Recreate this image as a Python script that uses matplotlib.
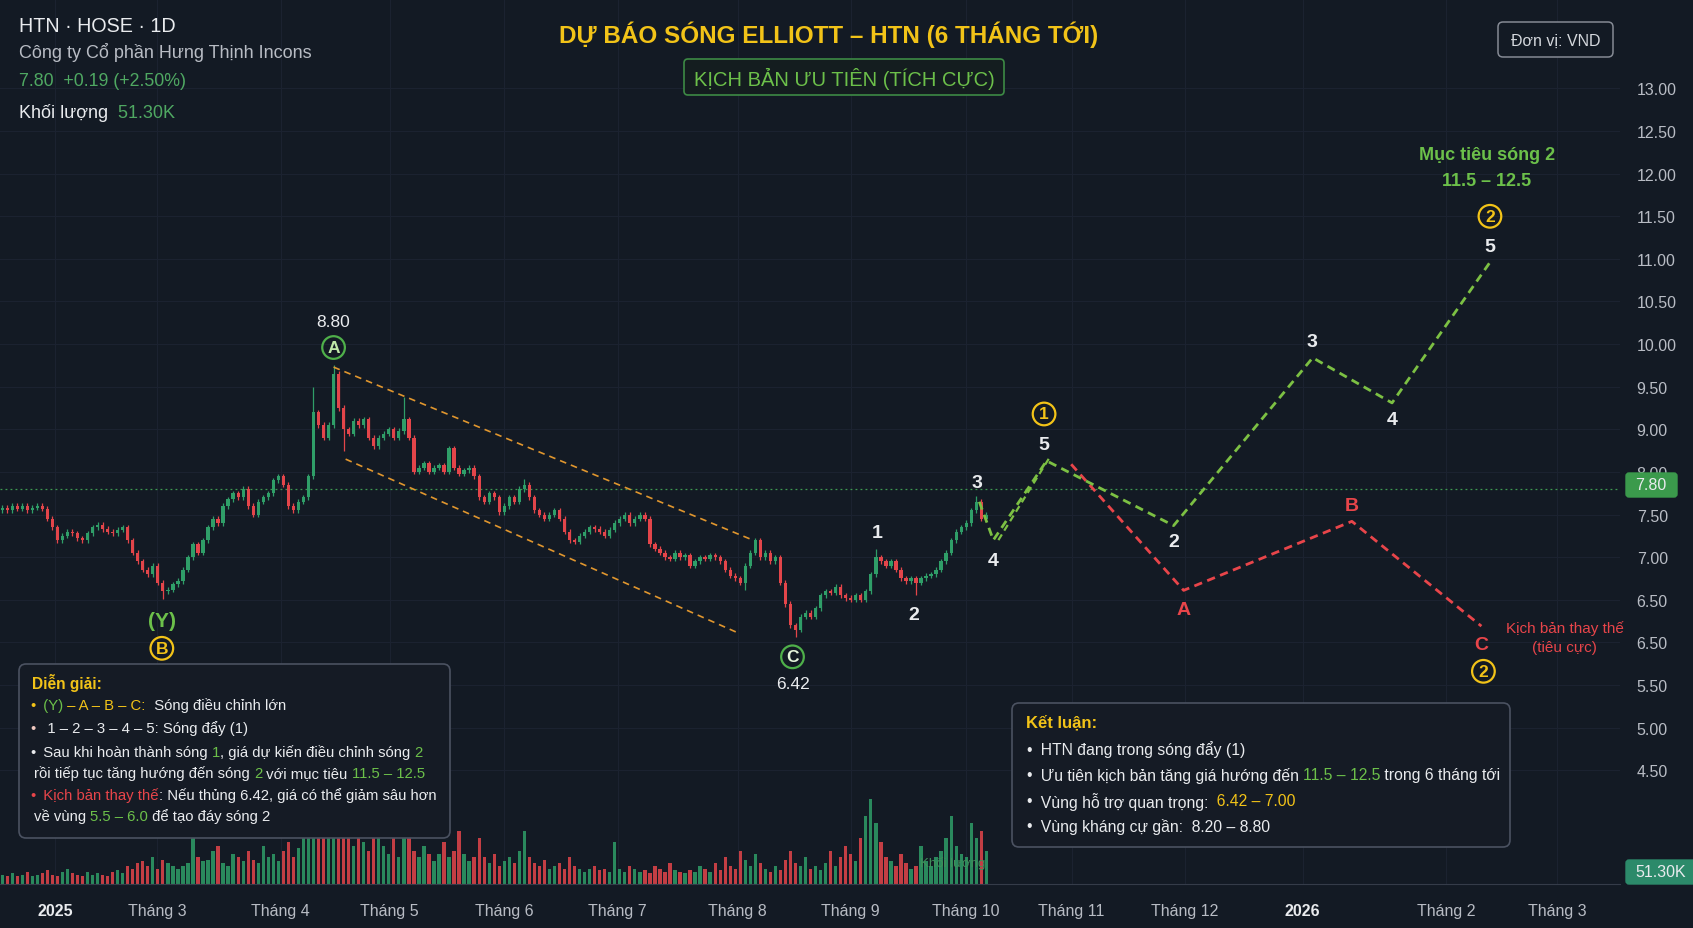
import matplotlib.pyplot as plt
from matplotlib.patches import FancyBboxPatch
from matplotlib.transforms import IdentityTransform
from matplotlib import font_manager
import numpy as np

W, H = 1693, 929
plt.rcParams['font.family'] = ['Liberation Sans', 'DejaVu Sans']
_names = {f.name for f in font_manager.fontManager.ttflist}
COND = 'Liberation Sans Narrow' if 'Liberation Sans Narrow' in _names else 'Liberation Sans'

BG = '#131a24'
UP = '#2f9e68'
DOWN = '#e3454a'
GOLD = '#f2c318'
GREEN = '#6cc04a'
FGREEN = '#7cc043'
RED = '#e8454a'
WHITE = '#e9ebee'
GRAY = '#b8bcc4'
ORANGE = '#e0962e'

# ---- data ----
first_open = 7.55
close = [7.58, 7.55, 7.60, 7.57, 7.60, 7.55, 7.58, 7.60, 7.57,
         7.45, 7.35, 7.20,
         7.25, 7.30, 7.28, 7.22, 7.20, 7.28,
         7.35, 7.38, 7.33, 7.30, 7.28, 7.32, 7.35,
         7.20, 7.05, 6.95, 6.85, 6.80, 6.90, 6.70, 6.60,
         6.62, 6.68, 6.72,
         6.85, 7.00, 7.15, 7.05, 7.20,
         7.35, 7.45, 7.40, 7.60, 7.68,
         7.75, 7.70, 7.80,
         7.60, 7.50, 7.65, 7.70, 7.75,
         7.90, 7.95, 7.85,
         7.60, 7.55, 7.65, 7.70,
         7.95, 8.70, 8.55, 8.40, 8.55, 9.15, 8.75, 8.50, 8.45, 8.60,
         8.55, 8.62, 8.40, 8.30, 8.40, 8.45, 8.50, 8.40, 8.48, 8.62,
         8.40, 8.00, 8.05, 8.10, 8.00, 8.05, 8.08, 8.00, 8.28, 8.05,
         7.98, 8.02, 8.05, 7.95, 7.70, 7.65, 7.75, 7.70, 7.53, 7.60,
         7.70, 7.65, 7.80, 7.85, 7.70, 7.55, 7.50, 7.45, 7.50, 7.55,
         7.45, 7.30, 7.20, 7.18, 7.25, 7.30, 7.35, 7.33, 7.30, 7.25,
         7.32, 7.40, 7.45, 7.50, 7.40, 7.45, 7.50, 7.45, 7.15, 7.10,
         7.05, 7.00, 6.98, 7.05, 7.00, 7.02, 6.90, 6.95, 7.00, 6.98,
         7.02, 7.00, 6.95, 6.85, 6.78, 6.75, 6.70, 6.90, 7.05, 7.20,
         7.00, 7.05, 6.95, 7.00, 6.70, 6.45, 6.20, 6.15, 6.30, 6.35,
         6.30, 6.40, 6.55, 6.60, 6.58, 6.65, 6.55, 6.52, 6.50, 6.55,
         6.50, 6.60, 6.80, 7.00, 6.95, 6.90, 6.95, 6.85, 6.75, 6.72,
         6.75, 6.70, 6.75, 6.78, 6.80, 6.85, 6.95, 7.05, 7.20, 7.30,
         7.35, 7.40, 7.55, 7.65, 7.45, 7.50]
wick_hi = {62: 9.00, 66: 9.25, 80: 8.88, 104: 7.92, 174: 7.10, 194: 7.72}
wick_lo = {32: 6.51, 158: 6.06, 182: 6.55, 68: 8.25, 148: 6.62}

volume = [6, 5, 7, 5, 6, 8, 5, 6, 7, 9, 6, 5, 8, 10, 7, 6, 5, 8, 6, 7, 6, 5, 8, 9, 7, 12, 10, 14,
          15, 12, 18, 10, 16, 14, 12, 10,
          12, 14, 30, 18, 15,
          16, 22, 25, 14, 12, 20, 18, 15, 22, 16,
          14, 25, 18, 20, 15, 22, 28, 18, 24, 40,
          30, 55, 45, 50, 62, 58,
          40, 35, 30, 25, 45, 28, 22, 30, 40,
          25, 20, 30, 18, 35, 42, 22, 18, 25, 20,
          15, 20, 28, 18, 22, 35, 20, 15, 18, 30,
          18, 14, 20, 12, 15, 18, 14, 22, 35, 18,
          14, 12, 16, 10, 12, 14, 10, 18, 12, 10,
          8, 10, 12, 9, 10, 8, 28, 10, 8, 12,
          10, 8, 9, 7, 12, 10, 8, 14, 9, 8,
          7, 9, 8, 12, 10, 8, 14, 9, 18, 12,
          10, 22, 16, 12, 20, 14, 10, 8, 12, 9,
          16, 22, 14, 12, 18, 10, 12, 9, 14, 22,
          12, 18, 25, 20, 15, 30, 45, 70, 40, 28,
          18, 15, 12, 20, 14, 10, 12, 25, 15, 12,
          18, 22, 30, 45, 25, 20, 18, 40, 30, 35, 22]

month_pos = [10.5, 30.8, 55.5, 77.2, 100, 122.6, 146.5, 169, 192, 213, 235.5, 259, 287.5, 309.7]
month_lbl = ['2025', 'Tháng 3', 'Tháng 4', 'Tháng 5', 'Tháng 6', 'Tháng 7', 'Tháng 8',
             'Tháng 9', 'Tháng 10', 'Tháng 11', 'Tháng 12', '2026', 'Tháng 2', 'Tháng 3']

ytick_pos = [12.5, 12.0, 11.5, 11.0, 10.5, 10.0, 9.5, 9.0, 8.5, 8.0, 7.5, 7.0, 6.5, 6.0, 5.5, 5.0, 4.5]
ytick_lbl = ['13.00', '12.50', '12.00', '11.50', '11.00', '10.50', '10.00', '9.50', '9.00',
             '8.00', '7.50', '7.00', '6.50', '6.50', '5.50', '5.00', '4.50']

last_price = 7.80

green_x = [194.6, 197.4, 208.0, 233.3, 261.0, 276.8, 296.3]
green_y = [7.65, 7.20, 8.13, 7.37, 9.34, 8.81, 10.46]
red_x = [212.9, 235.3, 268.8, 294.6]
red_y = [8.09, 6.61, 7.42, 6.19]
chan_up_x, chan_up_y = [66.0, 149.5], [9.23, 7.20]
chan_lo_x, chan_lo_y = [68.4, 146.2], [8.15, 6.12]

# ---- figure ----
fig = plt.figure(figsize=(W / 100, H / 100), dpi=100, facecolor=BG)
ax = fig.add_axes([0, 44 / H, 1620 / W, 885 / H])
ax.set_facecolor(BG)
ax.set_xlim(-0.43, 322.2)
ax.set_ylim(3.164, 13.55)
for s in ax.spines.values():
    s.set_visible(False)
ax.yaxis.tick_right()
ax.set_yticks(ytick_pos, ytick_lbl)
ax.set_xticks(month_pos)
ax.tick_params(axis='x', length=0, labelbottom=False)
ax.tick_params(axis='y', length=0, pad=12, labelsize=11.5, labelcolor=GRAY)
ax.grid(True, color='#1b2230', lw=0.8)
ax.set_axisbelow(True)

n = len(close)
x = np.arange(n)
c = np.array(close)
o = np.concatenate([[first_open], c[:-1]])
hi = np.maximum(o, c) + 0.03
lo = np.minimum(o, c) - 0.03
for k, v in wick_hi.items():
    hi[k] = v
for k, v in wick_lo.items():
    lo[k] = v
cols = np.where(c >= o, UP, DOWN)
ax.vlines(x, lo, hi, colors=cols, lw=0.9, zorder=3)
ax.bar(x, np.maximum(np.abs(c - o), 0.02), bottom=np.minimum(o, c), width=0.66,
       color=cols, zorder=4)

ax.axhline(last_price, color='#3f9a52', ls=(0, (1.5, 2.5)), lw=0.9, zorder=2)

# channel
ax.plot(chan_up_x, chan_up_y, color=ORANGE, ls=(0, (4, 3)), lw=1.2, zorder=5)
ax.plot(chan_lo_x, chan_lo_y, color=ORANGE, ls=(0, (4, 3)), lw=1.2, zorder=5)

# forecasts
ax.plot(red_x, red_y, color=RED, ls=(0, (3, 2)), lw=2, zorder=5)
ax.plot(green_x, green_y, color=FGREEN, ls=(0, (3, 2)), lw=2, zorder=6)
ax.plot([green_x[1] + 1, green_x[2] + 0.6], [green_y[1], green_y[2] + 0.04],
        color=FGREEN, ls=(0, (3, 2)), lw=1.6, zorder=6)

# wave labels
def lab(xv, yv, s, col=WHITE, size=14, weight='bold'):
    ax.text(xv, yv, s, color=col, fontsize=size, weight=weight, ha='center', va='center', zorder=8)

def circ(xv, yv, s, col, tcol=None):
    ax.text(xv, yv, s, color=tcol or col, fontsize=12.5, weight='bold', ha='center', va='center',
            zorder=8, bbox=dict(boxstyle='circle,pad=0.22', fc='none', ec=col, lw=1.6))

lab(31.8, 6.26, '(Y)', GREEN, 15)
circ(31.8, 5.93, 'B', GOLD)
lab(66, 9.77, '8.80', WHITE, 12.5, 'normal')
circ(66, 9.46, 'A', '#4fb04a', '#bfe8a8')
circ(157.4, 5.83, 'C', '#4fb04a', '#e6f5dc')
lab(157.4, 5.52, '6.42', WHITE, 12.5, 'normal')
lab(174.2, 7.29, '1')
lab(181.5, 6.33, '2')
lab(194.2, 7.87, '3')
lab(197.4, 6.96, '4')
lab(207.5, 8.32, '5')
circ(207.5, 8.68, '1', GOLD)
lab(233.3, 7.18, '2')
lab(260.9, 9.53, '3')
lab(276.8, 8.61, '4')
lab(296.3, 10.64, '5')
circ(296.3, 11.00, '2', GOLD)
lab(295.7, 11.73, 'Mục tiêu sóng 2', GREEN, 13)
lab(295.7, 11.42, '11.5 – 12.5', GREEN, 13)
lab(235.3, 6.38, 'A', RED, 14)
lab(268.8, 7.61, 'B', RED, 14)
lab(294.6, 5.97, 'C', RED, 14)
circ(295.0, 5.66, '2', GOLD)
lab(311.2, 6.17, 'Kịch bản thay thế', RED, 11, 'normal')
lab(311.2, 5.95, '(tiêu cực)', RED, 11, 'normal')

# ---- volume ----
axv = fig.add_axes([0, 44 / H, 1620 / W, 85 / H])
axv.patch.set_alpha(0)
vol = np.array(volume[:n]) * 10
axv.bar(x, vol, width=0.66, color=cols, alpha=0.85)
axv.set_xlim(-0.43, 322.2)
axv.set_ylim(0, 560)
axv.set_yticks([])
axv.set_xticks(month_pos, month_lbl)
axv.tick_params(axis='x', length=0, pad=14, labelsize=11.5, labelcolor=GRAY)
for t in axv.get_xticklabels():
    if t.get_text() in ('2025', '2026'):
        t.set_weight('bold')
        t.set_color(WHITE)
for k in ('top', 'left', 'right'):
    axv.spines[k].set_visible(False)
axv.spines['bottom'].set_color('#353c49')

# ---- overlay helpers (pixel coords, origin top-left) ----
def box(x0, y0, x1, y1, ec, fc='none', lw=1.2, r=6, z=2):
    p = FancyBboxPatch((x0, H - y1), x1 - x0, y1 - y0,
                       boxstyle=f'round,pad=0,rounding_size={r}', transform=IdentityTransform(),
                       ec=ec, fc=fc, lw=lw, zorder=z)
    fig.add_artist(p)

def ftext(xp, yp, s, col=WHITE, size=11, ha='left', weight='normal', family=None, z=3):
    kw = dict(color=col, fontsize=size, ha=ha, va='center', weight=weight, zorder=z)
    if family:
        kw['family'] = family
    return fig.text(xp / W, 1 - yp / H, s, **kw)

renderer = fig.canvas.get_renderer()

def rich(xp, yp, parts, size=10.7):
    for s, col in parts:
        t = ftext(xp, yp, s, col, size)
        xp += t.get_window_extent(renderer).width

# header
ftext(19, 27, 'HTN · HOSE · 1D', WHITE, 14.2)
ftext(19, 52, 'Công ty Cổ phần Hưng Thịnh Incons', GRAY, 13)
ftext(19, 81, '7.80  +0.19 (+2.50%)', '#4fa862', 12.8)
rich(19, 113, [('Khối lượng', WHITE), ('  51.30K', '#4fa862')], 13)

# title
ftext(829, 35, 'DỰ BÁO SÓNG ELLIOTT – HTN (6 THÁNG TỚI)', GOLD, 17.5, 'center', 'bold', [COND, 'DejaVu Sans'])
box(684, 60, 1004, 96, '#3d8a45', '#141d1f', 1.2, 4)
ftext(844, 79, 'KỊCH BẢN ƯU TIÊN (TÍCH CỰC)', GREEN, 14.5, 'center', 'normal', [COND, 'DejaVu Sans'])

# unit box
box(1498, 23, 1613, 58, '#858a94', BG, 1.1, 5)
ftext(1556, 41, 'Đơn vị: VND', '#d4d7dc', 11.5, 'center')

# price / volume tags
box(1626, 474, 1677, 498, '#3b9a4c', '#3b9a4c', 1, 3)
ftext(1651, 486, '7.80', WHITE, 11.5, 'center')
box(1626, 861, 1700, 885, '#2c8a6a', '#2c8a6a', 1, 3)
ftext(1661, 873, '51.30K', WHITE, 11.5, 'center')
ftext(953, 864, 'Khối lượng', '#3f8f5a', 9.5, 'center')

# explanation box
box(19, 665, 450, 839, '#4b5261', '#151b25', 1.2, 7)
ftext(32, 683, 'Diễn giải:', GOLD, 11.2, weight='bold')
rich(30, 706, [('•', GOLD), ('  (Y)', GREEN), (' – A – B – C:', GOLD), ('  Sóng điều chỉnh lớn', WHITE)])
rich(30, 729, [('•', '#f0c8c0'), ('   1 – 2 – 3 – 4 – 5: Sóng đẩy (1)', WHITE)])
rich(30, 753, [('•', WHITE), ('  Sau khi hoàn thành sóng ', WHITE), ('1', GREEN),
               (', giá dự kiến điều chỉnh sóng ', WHITE), ('2', GREEN)])
rich(34, 774, [('rồi tiếp tục tăng hướng đến sóng ', WHITE), ('2', GREEN),
               (' với mục tiêu ', WHITE), ('11.5 – 12.5', GREEN)])
rich(30, 796, [('•', RED), ('  Kịch bản thay thế', RED), (': Nếu thủng 6.42, giá có thể giảm sâu hơn', WHITE)])
rich(34, 817, [('về vùng ', WHITE), ('5.5 – 6.0', GREEN), (' để tạo đáy sóng 2', WHITE)])

# conclusion box
box(1012, 704, 1510, 848, '#4b5261', '#151b25', 1.2, 7)
ftext(1026, 723, 'Kết luận:', GOLD, 12, weight='bold')
rich(1026, 750, [('•', WHITE), ('  HTN đang trong sóng đẩy (1)', WHITE)], 11.3)
rich(1026, 776, [('•', WHITE), ('  Ưu tiên kịch bản tăng giá hướng đến ', WHITE), ('11.5 – 12.5', GREEN),
                 (' trong 6 tháng tới', WHITE)], 11.3)
rich(1026, 802, [('•', WHITE), ('  Vùng hỗ trợ quan trọng:', WHITE), ('  6.42 – 7.00', GOLD)], 11.3)
rich(1026, 827, [('•', WHITE), ('  Vùng kháng cự gần:  8.20 – 8.80', WHITE)], 11.3)

fig.savefig('out.png', dpi=100, facecolor=BG)
